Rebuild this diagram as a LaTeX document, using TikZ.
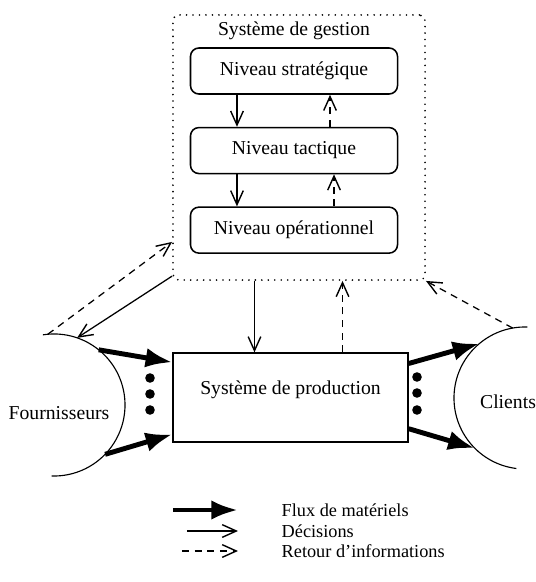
\documentclass[tikz,border=0pt]{standalone}
\usepackage{fontspec}
\setmainfont{Liberation Serif}
\usetikzlibrary{shapes,arrows.meta,positioning,calc}

\begin{document}
\begin{tikzpicture}[
    x=0.025cm, y=-0.025cm,
    font=\fontsize{14}{16}\selectfont,
    gestbox/.style={rectangle, draw, line width=1.3pt, line cap=round, dash pattern=on 0pt off 4.6pt, rounded corners=4pt, minimum width=6.3cm, minimum height=6.625cm},
    level/.style={rectangle, draw, line width=1.1pt, rounded corners=6pt, minimum width=5.175cm, minimum height=1.15cm},
    prodbox/.style={rectangle, draw, line width=0.9pt, minimum width=5.875cm, minimum height=2.225cm, text depth=0.5cm},
    party/.style={circle, minimum size=3.55cm, inner sep=0pt, outer sep=0pt},
    legend/.style={anchor=west, inner sep=1pt, font=\fontsize{13}{14}\selectfont},
    flux/.style={line width=3.5pt, -{Latex[length=19pt,width=14pt]}},
    decision/.style={line width=0.9pt, -{Straight Barb[length=10pt,width=9pt,line width=1pt]}},
    retour/.style={decision, dash pattern=on 5pt off 4pt}
]
\useasboundingbox (0,0) rectangle (536,582);

% Management system
\node (gest) [gestbox] at (299,147.5) {};
\node (gestlbl) at (294,31) {Système de gestion};
\node (strat) [level] at (294,71) {Niveau stratégique};
\node (tact) [level, below=0.8cm of strat] {Niveau tactique};
\node (oper) [level, below=0.8cm of tact] {Niveau opérationnel};

% Production system
\node (prod) [prodbox] at (290.5,397.5) {Système de production};

% Suppliers and clients
\node (four) [party] at (54,405) {};
\node (fourlbl) at (59,413) {Fournisseurs};
\node (cli) [party] at (525,398) {};
\node (clilbl) at (508,402) {Clients};
\draw[line width=0.8pt] (four.99) arc[start angle=99, end angle=-92, radius=1.775cm];
\draw[line width=0.8pt] (cli.88) arc[start angle=88, end angle=263, radius=1.775cm];

% Dots
\fill (150,378) circle[radius=0.12cm];
\fill (150,394) circle[radius=0.12cm];
\fill (150,410) circle[radius=0.12cm];
\fill (417,377) circle[radius=0.12cm];
\fill (417,393) circle[radius=0.12cm];
\fill (417,410) circle[radius=0.12cm];

% Between levels
\draw[decision] ([xshift=-1.425cm]strat.south) -- ([xshift=-1.425cm]tact.north);
\draw[retour] ([xshift=0.9cm]tact.north) -- ([xshift=0.9cm]strat.south);
\draw[decision] ([xshift=-1.425cm]tact.south) -- ([xshift=-1.425cm]oper.north);
\draw[retour] ([xshift=1cm]oper.north) -- ([xshift=1cm]tact.south);

% Management <-> production
\coordinate (dec) at ([xshift=-0.9cm]prod.north);
\coordinate (ret) at ([xshift=1.3cm]prod.north);
\draw[decision] (dec |- gest.south) -- (dec);
\draw[retour] (ret) -- (ret |- gest.south);

% Material flow
\draw[flux] (four.51) -- ([yshift=0.88cm]prod.west);
\draw[flux] (four.-44) -- ([yshift=-0.92cm]prod.west);
\draw[flux] ([yshift=0.85cm]prod.east) -- (cli.130);
\draw[flux] ([yshift=-0.78cm]prod.east) -- (cli.225);

% Suppliers and clients <-> management
\draw[retour] (four.95) -- ([yshift=-2.36cm]gest.west);
\draw[decision] ([yshift=0.12cm]gest.south west) -- (four.71);
\draw[retour] (cli.100) -- (gest.south east);

% Legend
\node (lflux) [legend] at (280,510) {Flux de matériels};
\node (ldec) [legend] at (280,531) {Décisions};
\node (lret) [legend] at (280,551) {Retour d'informations};
\draw[flux] ([xshift=-2.675cm]lflux.west) -- ([xshift=-1.05cm]lflux.west);
\draw[decision] ([xshift=-2.325cm]ldec.west) -- ([xshift=-1.05cm]ldec.west);
\draw[retour] ([xshift=-2.45cm]lret.west) -- ([xshift=-1.05cm]lret.west);

\end{tikzpicture}
\end{document}
